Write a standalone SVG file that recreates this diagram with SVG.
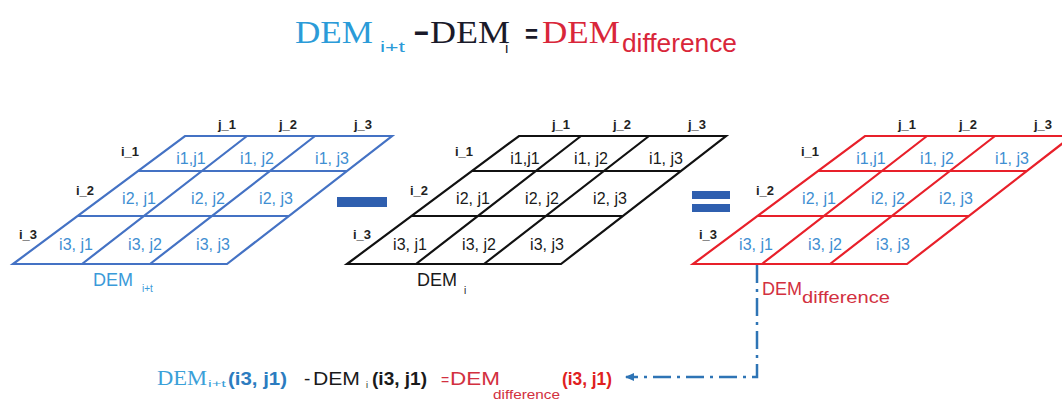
<svg xmlns="http://www.w3.org/2000/svg" width="1062" height="400" viewBox="0 0 1062 400">
<style>
.cell{font-family:"Liberation Sans",Arial,sans-serif;font-size:16px;text-anchor:middle;fill:#3f8fd2}
.cellk{fill:#1a1a1a}
.ax{font-family:"Liberation Sans",Arial,sans-serif;font-size:13px;font-weight:bold;text-anchor:middle;fill:#222}
.gl{fill:none;stroke-width:2.2;stroke-linejoin:miter}
.sans{font-family:"Liberation Sans",Arial,sans-serif}
.serif{font-family:"Liberation Serif","Times New Roman",serif}
.b{font-weight:bold}
.op{fill:#2f5faf}
</style>
<defs>
<g id="gridlines">
<path d="M172,0 L379,0 L214,128 L0,128 Z M125,35 L334,35 M64.5,80 L276,80 M234,0 L69,128 M302,0 L137,128"/>
</g>
<g id="axes" class="ax">
<text x="214" y="-7">j_1</text>
<text x="275" y="-7">j_2</text>
<text x="350" y="-7">j_3</text>
<text x="117" y="20">i_1</text>
<text x="72" y="59">i_2</text>
<text x="15" y="103">i_3</text>
</g>
<marker id="arr" markerUnits="userSpaceOnUse" markerWidth="10" markerHeight="8" refX="8" refY="4" orient="auto">
<path d="M0,0 L9,4 L0,8 Z" fill="#2e74b5"/>
</marker>
</defs>

<g id="title">
<text class="serif" x="295" y="43" font-size="31" fill="#2b9bd8" textLength="78" lengthAdjust="spacingAndGlyphs">DEM</text>
<text class="sans" x="380" y="52" font-size="15" fill="#2b9bd8" textLength="25" lengthAdjust="spacingAndGlyphs">i+t</text>
<text class="sans b" x="414" y="43" font-size="30" fill="#1a1a2a" textLength="15" lengthAdjust="spacingAndGlyphs">−</text>
<text class="serif" x="430" y="43" font-size="31" fill="#1a1a2a" textLength="80" lengthAdjust="spacingAndGlyphs">DEM</text>
<text class="sans" x="505" y="53" font-size="15" fill="#1a1a2a">i</text>
<text class="sans b" x="525" y="43" font-size="26" fill="#1a1a2a" textLength="13" lengthAdjust="spacingAndGlyphs">=</text>
<text class="serif" x="542" y="43" font-size="31" fill="#d9263a" textLength="78" lengthAdjust="spacingAndGlyphs">DEM</text>
<text class="sans" x="622" y="52" font-size="25" fill="#d9263a" textLength="115" lengthAdjust="spacingAndGlyphs">difference</text>
</g>

<g id="grid-blue" transform="translate(13,136)">
<use href="#gridlines" class="gl" stroke="#4472c4"/>
<use href="#axes"/>
<g class="cell">
<text x="178" y="28">i1,j1</text><text x="244" y="28">i1, j2</text><text x="319" y="28">i1, j3</text>
<text x="126" y="68">i2, j1</text><text x="195" y="68">i2, j2</text><text x="263" y="68">i2, j3</text>
<text x="63" y="114">i3, j1</text><text x="132" y="114">i3, j2</text><text x="200" y="114">i3, j3</text>
</g>
</g>
<g id="label-blue">
<text class="sans" x="93" y="286" font-size="18" fill="#3a9ad9" textLength="40" lengthAdjust="spacingAndGlyphs">DEM</text>
<text class="sans" x="142" y="292" font-size="10" fill="#3a9ad9">i+t</text>
</g>

<g id="minus"><rect class="op" x="337" y="197" width="50" height="10"/></g>

<g id="grid-black" transform="translate(347,136)">
<use href="#gridlines" class="gl" stroke="#111"/>
<use href="#axes"/>
<g class="cell cellk">
<text x="178" y="28">i1,j1</text><text x="244" y="28">i1, j2</text><text x="319" y="28">i1, j3</text>
<text x="126" y="68">i2, j1</text><text x="195" y="68">i2, j2</text><text x="263" y="68">i2, j3</text>
<text x="63" y="114">i3, j1</text><text x="132" y="114">i3, j2</text><text x="200" y="114">i3, j3</text>
</g>
</g>
<g id="label-black">
<text class="sans" x="417" y="286" font-size="18" fill="#1a1a1a" textLength="40" lengthAdjust="spacingAndGlyphs">DEM</text>
<text class="sans" x="464" y="294" font-size="10" fill="#1a1a1a">i</text>
</g>

<g id="equals"><rect class="op" x="692" y="191" width="38" height="8"/><rect class="op" x="692" y="204" width="38" height="8"/></g>

<g id="grid-red" transform="translate(693,136)">
<use href="#gridlines" class="gl" stroke="#e8202a"/>
<use href="#axes"/>
<g class="cell">
<text x="178" y="28">i1,j1</text><text x="244" y="28">i1, j2</text><text x="319" y="28">i1, j3</text>
<text x="126" y="68">i2, j1</text><text x="195" y="68">i2, j2</text><text x="263" y="68">i2, j3</text>
<text x="63" y="114">i3, j1</text><text x="132" y="114">i3, j2</text><text x="200" y="114">i3, j3</text>
</g>
</g>
<g id="label-red">
<text class="sans" x="762" y="295" font-size="18" fill="#d23040" textLength="40" lengthAdjust="spacingAndGlyphs">DEM</text>
<text class="sans" x="802" y="303" font-size="17" fill="#d23040" textLength="88" lengthAdjust="spacingAndGlyphs">difference</text>
</g>

<g id="connectors">
<path d="M757,265 L757,377 L626,377" fill="none" stroke="#2e74b5" stroke-width="2.5" stroke-dasharray="18,6,3,6" marker-end="url(#arr)"/>
</g>

<g id="equation">
<text class="serif" x="157" y="385" font-size="21" fill="#3aa0d8" textLength="50" lengthAdjust="spacingAndGlyphs">DEM</text>
<text class="sans" x="208" y="387" font-size="9" fill="#3aa0d8" textLength="18" lengthAdjust="spacingAndGlyphs">i+t</text>
<text class="sans b" x="228" y="385" font-size="19" fill="#2c7cc0" textLength="59" lengthAdjust="spacingAndGlyphs">(i3, j1)</text>
<text class="sans" x="304" y="385" font-size="19" fill="#1a1a1a">-</text>
<text class="sans" x="313" y="385" font-size="19" fill="#1a1a1a" textLength="47" lengthAdjust="spacingAndGlyphs">DEM</text>
<text class="sans" x="366" y="388" font-size="9" fill="#1a1a1a">i</text>
<text class="sans b" x="372" y="385" font-size="19" fill="#1a1a1a" textLength="55" lengthAdjust="spacingAndGlyphs">(i3, j1)</text>
<text class="sans" x="441" y="385" font-size="14" fill="#d23040">=</text>
<text class="sans" x="450" y="385" font-size="19" fill="#d23040" textLength="50" lengthAdjust="spacingAndGlyphs">DEM</text>
<text class="sans" x="493" y="399" font-size="12" fill="#d23040" textLength="67" lengthAdjust="spacingAndGlyphs">difference</text>
<text class="sans b" x="562" y="385" font-size="19" fill="#e02020" textLength="50" lengthAdjust="spacingAndGlyphs">(i3, j1)</text>
</g>
</svg>
